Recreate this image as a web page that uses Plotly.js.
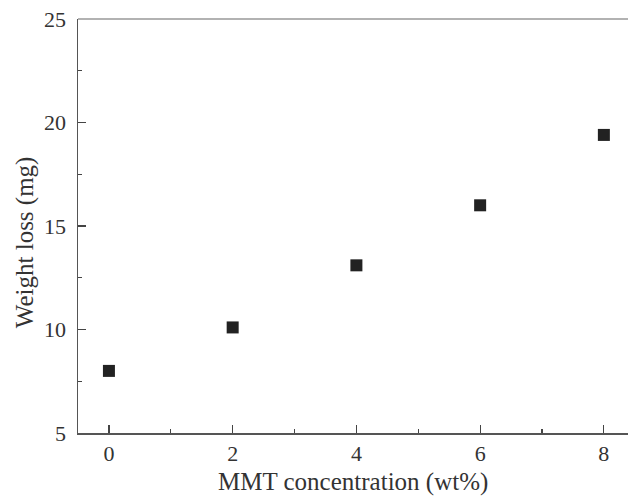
<!DOCTYPE html>
<html><head><meta charset="utf-8">
<script src="https://cdn.plot.ly/plotly-3.0.1.min.js"></script>
<style>body{margin:0;padding:0;background:#fff}#chart{width:630px;height:496px}</style>
</head><body><div id="chart"></div>
<script>
const mmt = [0, 2, 4, 6, 8];
const weightLoss = [8.0, 10.1, 13.1, 16.0, 19.4];
const xTicks = [0, 2, 4, 6, 8];
const yTicks = [5, 10, 15, 20, 25];
const xTitle = 'MMT concentration (wt%)';
const yTitle = 'Weight loss (mg)';

const fam = 'Liberation Serif, Times New Roman, serif';
const tickFont = {family: fam, size: 22, color: '#333'};
const titleFont = {family: fam, size: 25, color: '#333'};
const trace = {
  x: mmt, y: weightLoss, type: 'scatter', mode: 'markers',
  marker: {symbol: 'square', size: 12, color: '#222'}
};
const layout = {
  width: 630, height: 496,
  margin: {l: 78, r: 2, t: 19, b: 63},
  paper_bgcolor: '#fff', plot_bgcolor: '#fff',
  showlegend: false, font: tickFont,
  xaxis: {
    range: [-0.5, 8.39], tickvals: xTicks, ticktext: xTicks.map(String),
    ticks: 'inside', ticklen: 8, tickcolor: '#444', tickwidth: 1.2,
    minor: {dtick: 1, tick0: 1, ticks: 'inside', ticklen: 4, tickcolor: '#444', tickwidth: 1.2, showgrid: false},
    showline: true, linecolor: '#555', linewidth: 1.5, showgrid: false, zeroline: false,
    tickfont: tickFont, ticklabelstandoff: 0
  },
  yaxis: {
    range: [5, 25], tickvals: yTicks, ticktext: yTicks.map(String),
    ticks: 'inside', ticklen: 8, tickcolor: '#444', tickwidth: 1.2,
    minor: {dtick: 2.5, tick0: 5, ticks: 'inside', ticklen: 4, tickcolor: '#444', tickwidth: 1.2, showgrid: false},
    showline: true, linecolor: '#555', linewidth: 1.5, showgrid: false, zeroline: false,
    tickfont: tickFont, ticklabelstandoff: 6
  },
  annotations: [
    {text: xTitle, xref: 'paper', yref: 'paper', x: 0.5, y: -0.118, xanchor: 'center', yanchor: 'middle',
     showarrow: false, font: titleFont},
    {text: yTitle, xref: 'paper', yref: 'paper', x: 0, xshift: -53, y: 0.461, xanchor: 'center', yanchor: 'middle',
     textangle: -90, showarrow: false, font: titleFont}
  ],
  shapes: [{type: 'line', xref: 'paper', yref: 'paper', x0: 0, x1: 1, y0: 1, y1: 1,
            line: {color: '#999', width: 1.5}}]
};
Plotly.newPlot('chart', [trace], layout, {displayModeBar: false, staticPlot: true});
</script></body></html>
